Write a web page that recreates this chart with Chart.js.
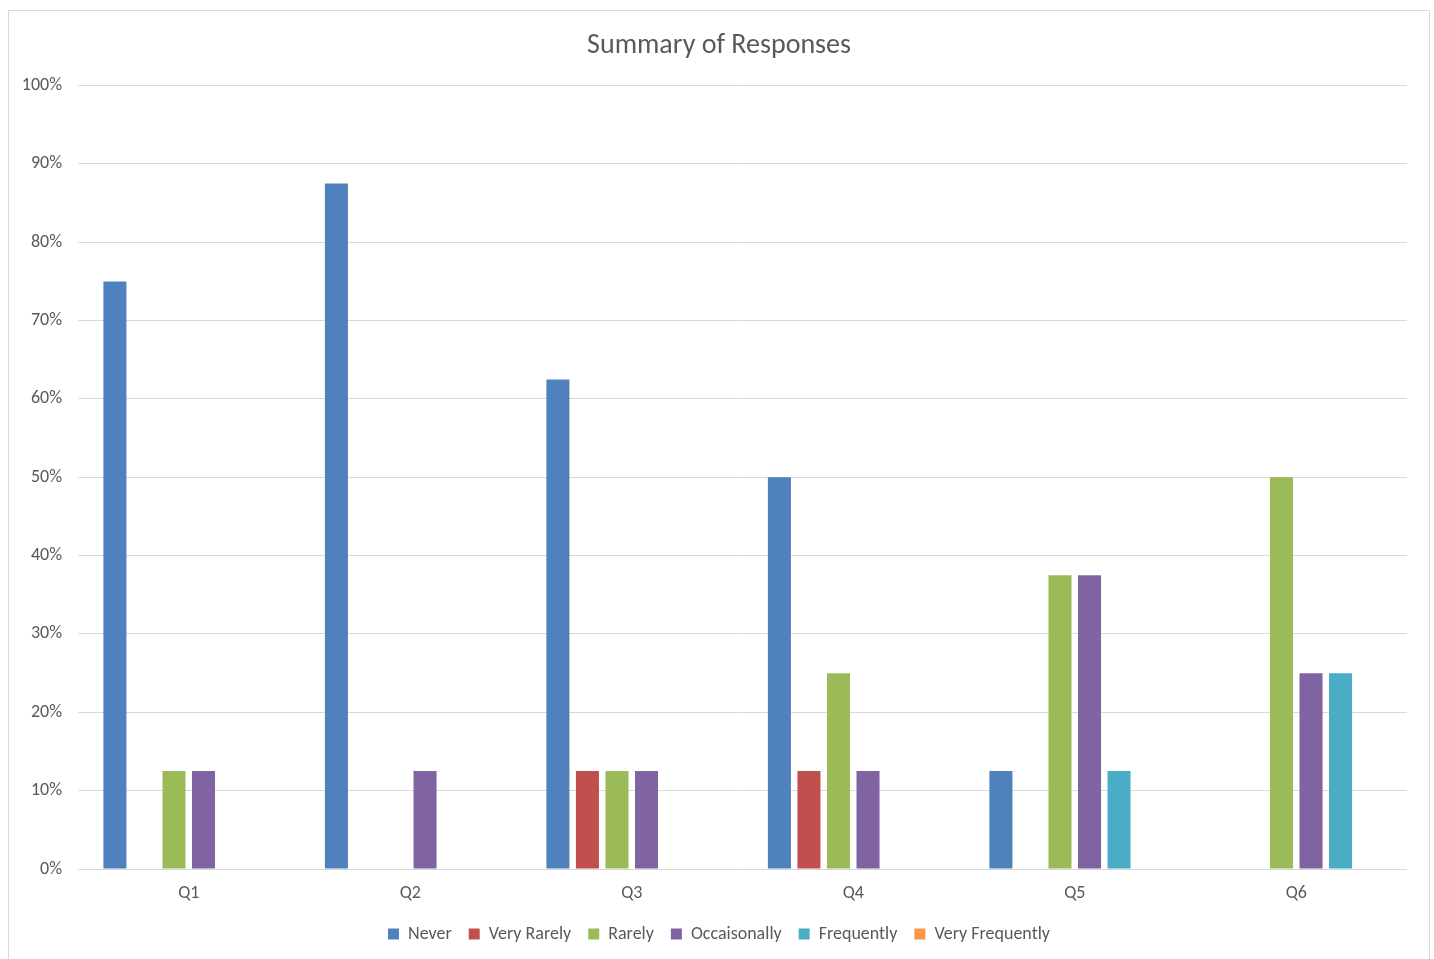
<!DOCTYPE html>
<html>
<head>
    <title>Summary of Responses</title>
    <script src="https://cdn.jsdelivr.net/npm/chart.js"></script>
    <style>
        body { margin: 0; background: #fff; overflow: hidden; }
        .frame { position: absolute; left: 8px; top: 10px; width: 1420px; height: 960px; border: 1px solid #d9d9d9; }
        .frame canvas { display: block; }
    </style>
</head>
<body>
    <div class="frame">
        <canvas id="responsesChart" width="1420" height="948"></canvas>
    </div>

    <script>
        // Data (share of respondents, %)
        const questions = ['Q1', 'Q2', 'Q3', 'Q4', 'Q5', 'Q6'];
        const never          = [75, 87.5, 62.5, 50, 12.5, 0];
        const veryRarely     = [0, 0, 12.5, 12.5, 0, 0];
        const rarely         = [12.5, 0, 12.5, 25, 37.5, 50];
        const occasionally   = [12.5, 12.5, 12.5, 12.5, 37.5, 25];
        const frequently     = [0, 0, 0, 0, 12.5, 25];
        const veryFrequently = [0, 0, 0, 0, 0, 0];

        const fontFamily = 'Carlito, Calibri, "Open Sans", sans-serif';
        const textColor = '#595959';

        const series = [
            ['Never', never, '#4F81BD'],
            ['Very Rarely', veryRarely, '#C0504D'],
            ['Rarely', rarely, '#9BBB59'],
            ['Occaisonally', occasionally, '#8064A2'],
            ['Frequently', frequently, '#4BACC6'],
            ['Very Frequently', veryFrequently, '#F79646']
        ];

        const ctx = document.getElementById('responsesChart').getContext('2d');
        new Chart(ctx, {
            type: 'bar',
            data: {
                labels: questions,
                datasets: series.map(([label, data, color]) => ({
                    label: label,
                    data: data,
                    backgroundColor: color,
                    borderWidth: 0,
                    categoryPercentage: 0.8,
                    barPercentage: 0.78
                }))
            },
            options: {
                responsive: false,
                animation: false,
                layout: { padding: { left: 0, right: 0, top: 10, bottom: 6 } },
                plugins: {
                    title: {
                        display: true,
                        text: 'Summary of Responses',
                        color: textColor,
                        font: { family: fontFamily, size: 28, weight: 'normal' },
                        padding: { top: 8, bottom: 23 }
                    },
                    legend: {
                        position: 'bottom',
                        labels: {
                            color: textColor,
                            font: { family: fontFamily, size: 18 },
                            boxWidth: 11,
                            boxHeight: 11,
                            padding: 17
                        }
                    },
                    tooltip: { enabled: false }
                },
                scales: {
                    x: {
                        grid: { display: false },
                        border: { display: false },
                        afterFit: (scale) => { scale.height = 39; },
                        ticks: { color: textColor, font: { family: fontFamily, size: 18 }, padding: 6 }
                    },
                    y: {
                        min: 0,
                        max: 100,
                        afterFit: (scale) => { scale.width = 69; },
                        grid: { color: '#d9d9d9', drawTicks: false },
                        border: { display: false },
                        ticks: {
                            stepSize: 10,
                            padding: 16,
                            color: textColor,
                            font: { family: fontFamily, size: 18 },
                            callback: (v) => v + '%'
                        }
                    },
                    // empty spacer on the right so title and legend stay centred on the whole frame
                    spacer: {
                        type: 'linear',
                        position: 'right',
                        min: 0,
                        max: 1,
                        afterFit: (scale) => { scale.width = 22; },
                        grid: { display: false },
                        border: { display: false },
                        ticks: { display: false }
                    }
                }
            }
        });
    </script>
</body>
</html>
